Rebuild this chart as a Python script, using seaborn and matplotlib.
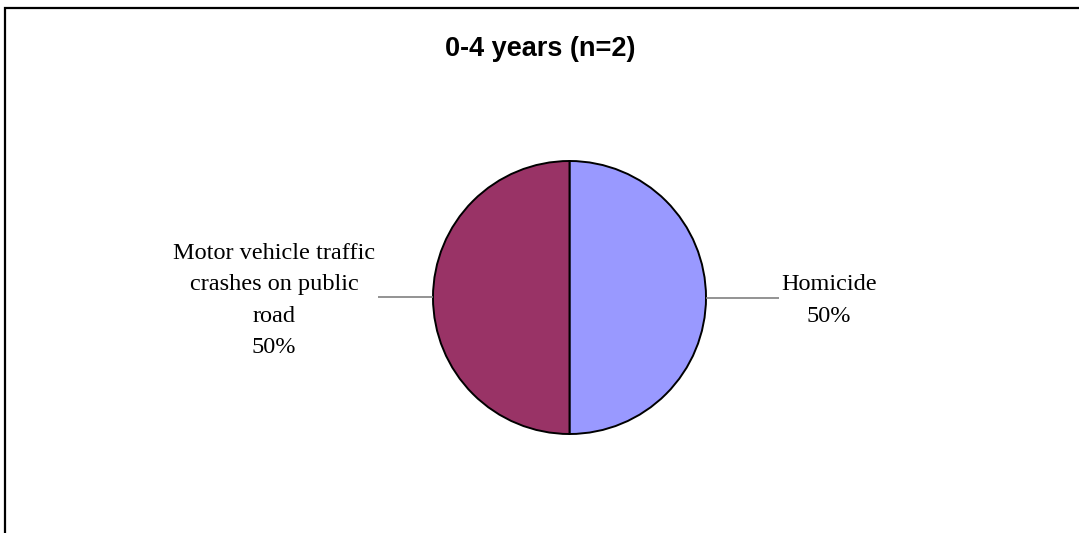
import numpy as np
import matplotlib
matplotlib.use("Agg")
import matplotlib.pyplot as plt
from matplotlib.patches import Rectangle
import seaborn as sns

# Causes of death, ages 0-4 (counts)
categories = ["Homicide", "Motor vehicle traffic\ncrashes on public\nroad"]
counts = [1, 1]
colors = ["#9999FF", "#993366"]
title = "0-4 years (n=2)"

sns.set_theme(style="white")
plt.rcParams["font.family"] = ["Liberation Serif", "DejaVu Serif"]
plt.rcParams["text.color"] = "black"

W, H = 1079, 533
fig = plt.figure(figsize=(W / 100, H / 100), dpi=100)
fig.patch.set_facecolor("white")

# Axes spans the whole figure in pixel-like data units (y measured upward)
ax = fig.add_axes([0, 0, 1, 1])
cx, cy, r = 569.5, H - 297.5, 136.5

wedges, _ = ax.pie(
    counts, colors=colors, startangle=90, counterclock=False,
    center=(cx, cy), radius=r,
    wedgeprops=dict(edgecolor="black", linewidth=1.4),
)
ax.set_xlim(0, W)
ax.set_ylim(0, H)
ax.set_aspect("auto")
ax.axis("off")

total = sum(counts)
for w, name, c in zip(wedges, categories, counts):
    mid = np.deg2rad((w.theta1 + w.theta2) / 2)
    dx, dy = np.cos(mid), np.sin(mid)
    leader = 73 if dx >= 0 else 55
    x0, y0 = cx + r * dx, cy + r * dy
    x1, y1 = cx + (r + leader) * dx, cy + (r + leader) * dy
    ax.plot([x0, x1], [y0, y1], color="#808080", lw=1.2, solid_capstyle="butt")
    label = f"{name}\n{c / total:.0%}"
    tx = x1 + 50 if dx >= 0 else x1 - 104
    ax.text(tx, y1 - 3, label, ha="center", va="center", fontsize=17.5,
            linespacing=1.64, color="black")

fig.text(540 / W, 1 - 49 / H, title, ha="center", va="center", color="black",
         fontsize=19.5, fontweight="bold", family=["Liberation Sans", "DejaVu Sans"])

# Chart frame
fig.patches.append(Rectangle((5 / W, -0.1), 1.2, 1 - 8 / H + 0.1,
                             transform=fig.transFigure, fill=False,
                             edgecolor="black", linewidth=1.6))

fig.savefig("out.png", dpi=100, facecolor="white")
